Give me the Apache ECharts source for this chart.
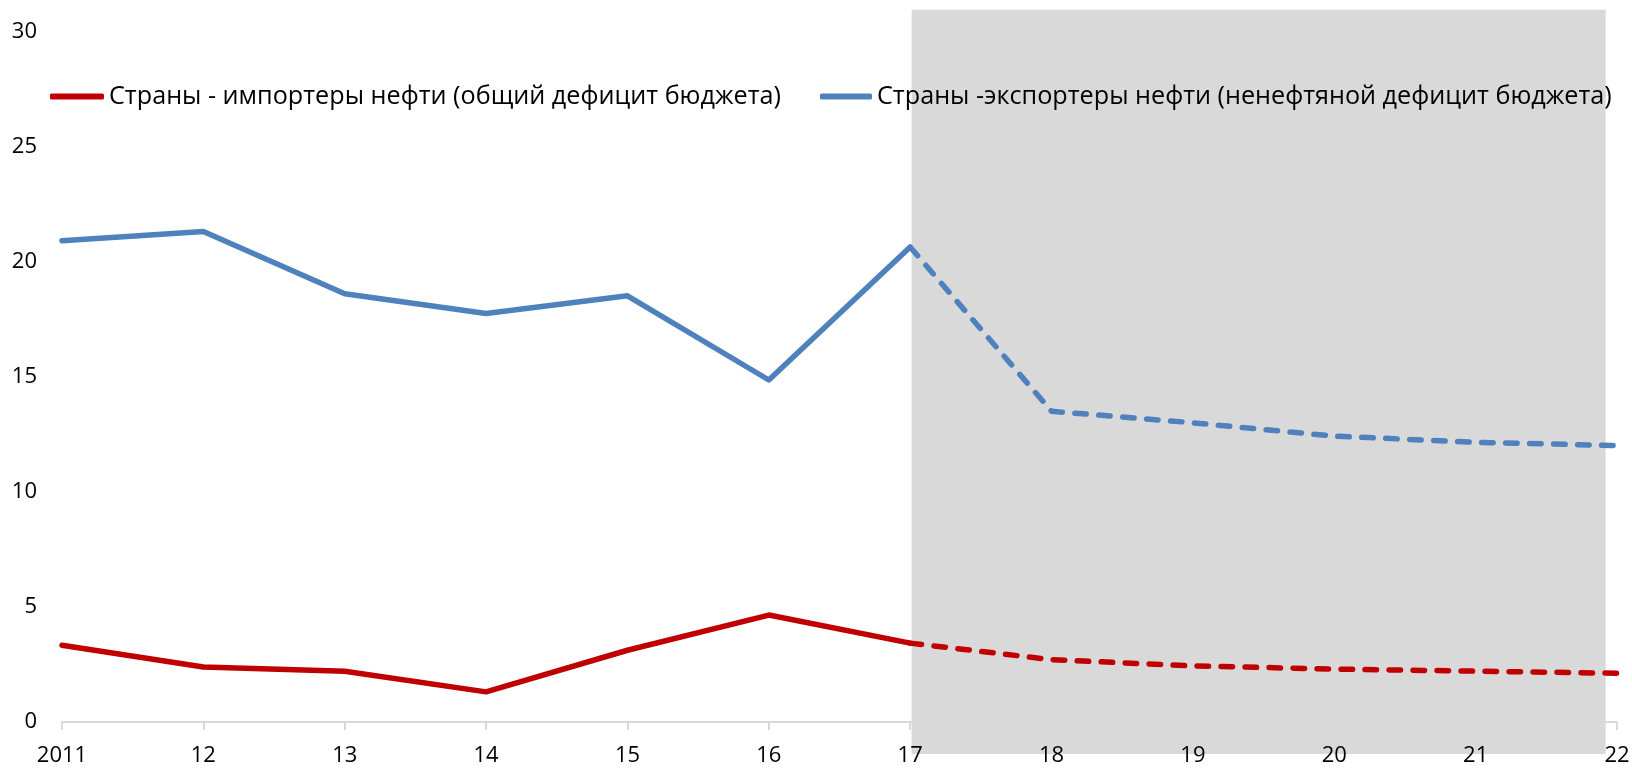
<!DOCTYPE html>
<html lang="ru">
<head>
    <meta charset="UTF-8">
    <title>Дефицит бюджета</title>
    <script src="https://cdn.jsdelivr.net/npm/echarts@6/dist/echarts.min.js"></script>
    <style>
        html, body {margin: 0; padding: 0; background: #fff;}
        #main {width: 1632px; height: 769px;}
    </style>
</head>
<body>
<div id="main"></div>
<script type="text/javascript">
    // годы и подписи оси
    var years = [2011, 2012, 2013, 2014, 2015, 2016, 2017, 2018, 2019, 2020, 2021, 2022];
    var yearLabels = ['2011', '12', '13', '14', '15', '16', '17', '18', '19', '20', '21', '22'];
    var yTicks = [0, 5, 10, 15, 20, 25, 30];

    var importersName = 'Страны - импортеры нефти (общий дефицит бюджета)';
    var exportersName = 'Страны -экспортеры нефти (ненефтяной дефицит бюджета)';

    // значения
    var importers = [3.34, 2.39, 2.21, 1.31, 3.12, 4.65, 3.43, 2.71, 2.44, 2.30, 2.21, 2.12];
    var exporters = [20.92, 21.33, 18.62, 17.76, 18.53, 14.87, 20.65, 13.51, 13.01, 12.43, 12.16, 12.02];

    var forecastFrom = 2017;   // с этого года пунктир
    // серый прогнозный период (выходит за пределы сетки)
    var shadeX = [2017.01, 2021.92];
    var shadeY = [-1.39, 30.97];

    function pairs(vals, from, to) {
        var out = [];
        for (var i = 0; i < years.length; i++) {
            if (years[i] >= from && years[i] <= to) out.push([years[i], vals[i]]);
        }
        return out;
    }

    var font = '"Open Sans", "DejaVu Sans", sans-serif';
    var red = '#c00000';
    var blue = '#4f81bd';
    var dash = [11.5, 12.5];

    var myChart = echarts.init(document.getElementById('main'));

    var xBase = {
        type: 'value',
        min: years[0],
        max: years[years.length - 1],
        interval: 1,
        splitLine: {show: false}
    };

    option = {
        animation: false,
        backgroundColor: '#fff',
        grid: {left: 62, right: 15, top: 32, bottom: 47, containLabel: false, outerBoundsMode: 'none'},
        legend: [{
            data: [{name: importersName, icon: 'roundRect'}],
            left: 50, top: 84, padding: 0,
            itemWidth: 54, itemHeight: 6,
            textStyle: {fontFamily: font, fontSize: 25.2, color: '#000'}
        }, {
            data: [{name: exportersName, icon: 'roundRect'}],
            left: 820, top: 84, padding: 0,
            itemWidth: 52, itemHeight: 6,
            textStyle: {fontFamily: font, fontSize: 25.2, color: '#000'}
        }],
        xAxis: [
            Object.assign({}, xBase, {
                position: 'bottom',
                z: 0,
                axisLine: {show: true, lineStyle: {color: '#d9d9d9', width: 2}},
                axisTick: {show: true, length: 8, lineStyle: {color: '#d9d9d9', width: 2}},
                axisLabel: {show: false}
            }),
            Object.assign({}, xBase, {
                position: 'bottom',
                z: 10,
                axisLine: {show: false},
                axisTick: {show: false},
                axisLabel: {
                    show: true, margin: 23,
                    fontFamily: font, fontSize: 22, color: '#000',
                    formatter: function (v) {
                        var i = years.indexOf(v);
                        return i >= 0 ? yearLabels[i] : '';
                    }
                }
            })
        ],
        yAxis: {
            type: 'value',
            min: yTicks[0],
            max: yTicks[yTicks.length - 1],
            interval: 5,
            axisLine: {show: false},
            axisTick: {show: false},
            splitLine: {show: false},
            axisLabel: {margin: 25, fontFamily: font, fontSize: 22, color: '#000'}
        },
        series: [
            {
                name: importersName,
                type: 'line',
                color: red,
                z: 3,
                showSymbol: false,
                data: pairs(importers, years[0], forecastFrom),
                lineStyle: {width: 5.5, color: red, cap: 'round', join: 'round'}
            },
            {
                name: importersName + ' прогноз',
                type: 'line',
                color: red,
                z: 3,
                showSymbol: false,
                data: pairs(importers, forecastFrom, years[years.length - 1]),
                lineStyle: {width: 5.5, color: red, type: dash, cap: 'round', join: 'round'}
            },
            {
                name: exportersName,
                type: 'line',
                color: blue,
                z: 3,
                showSymbol: false,
                data: pairs(exporters, years[0], forecastFrom),
                lineStyle: {width: 5.5, color: blue, cap: 'round', join: 'round'}
            },
            {
                name: exportersName + ' прогноз',
                type: 'line',
                color: blue,
                z: 3,
                showSymbol: false,
                data: pairs(exporters, forecastFrom, years[years.length - 1]),
                lineStyle: {width: 5.5, color: blue, type: dash, cap: 'round', join: 'round'}
            }
        ]
    };

    myChart.setOption(option);

    // прямоугольник прогноза, координаты через оси графика
    var p0 = myChart.convertToPixel({xAxisIndex: 0, yAxisIndex: 0}, [shadeX[0], shadeY[1]]);
    var p1 = myChart.convertToPixel({xAxisIndex: 0, yAxisIndex: 0}, [shadeX[1], shadeY[0]]);
    myChart.setOption({
        graphic: [{
            type: 'rect',
            z: 1,
            silent: true,
            shape: {x: p0[0], y: p0[1], width: p1[0] - p0[0], height: p1[1] - p0[1]},
            style: {fill: '#d9d9d9'}
        }]
    });
</script>
</body>
</html>
